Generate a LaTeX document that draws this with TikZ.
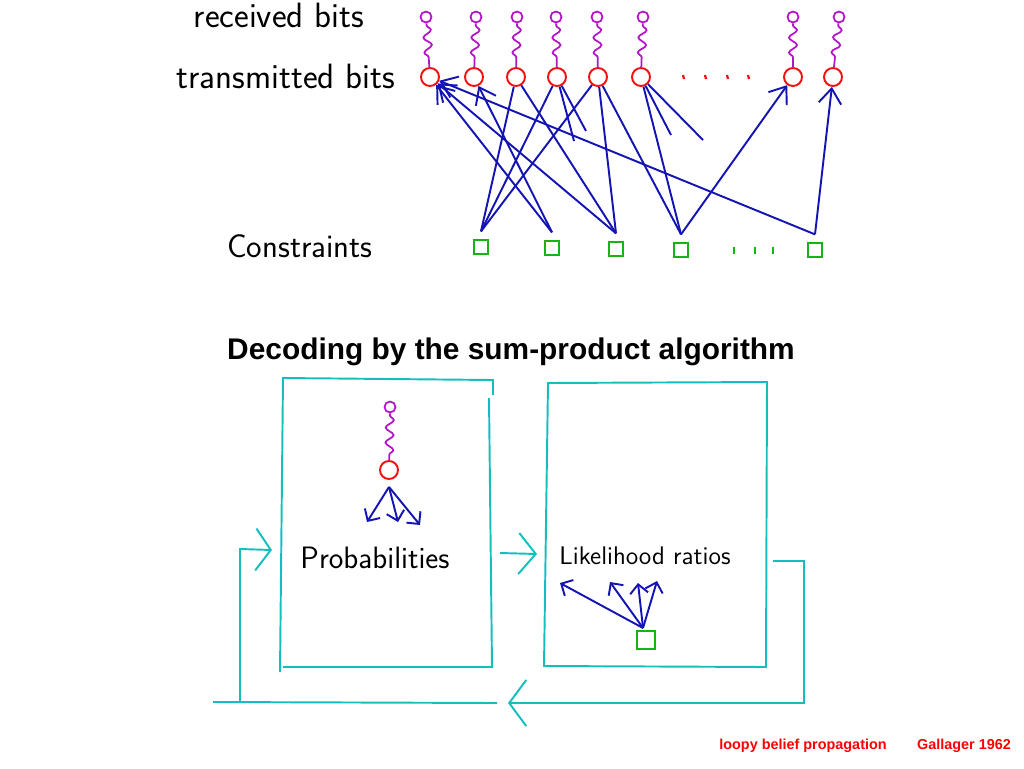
\documentclass[tikz,border=0pt]{standalone}
\usepackage{fontspec}
\newfontfamily\headfont{Liberation Sans}
\usepackage{xcolor}
\definecolor{inkblue}{HTML}{1414B4}
\definecolor{bitred}{HTML}{F21010}
\definecolor{rxmagenta}{HTML}{B414C8}
\definecolor{checkgreen}{HTML}{14B414}
\definecolor{loopcyan}{HTML}{14BEBE}
\definecolor{notered}{HTML}{FF0000}
\usepackage{tikz}
\usetikzlibrary{arrows.meta, decorations.pathmorphing}

\tikzset{
  bit/.style={circle, draw=bitred, line width=1.1pt, minimum size=0.36cm, inner sep=0pt},
  rxbit/.style={circle, draw=rxmagenta, line width=1pt, minimum size=0.22cm, inner sep=0pt},
  check/.style={rectangle, draw=checkgreen, line width=1pt, minimum size=0.29cm, inner sep=0pt},
  msg/.style={draw=inkblue, line width=1.1pt},
  barb/.style={-{Straight Barb[length=0.3cm, width=0.45cm]}},
  smallbarb/.style={-{Straight Barb[length=0.18cm, width=0.36cm]}},
  wiggle/.style={draw=rxmagenta, line width=1pt, decorate,
    decoration={snake, amplitude=0.08cm, segment length=0.3cm, pre length=0.04cm, post length=0.06cm}},
  loopline/.style={draw=loopcyan, line width=1.1pt},
  scrawl/.style={font=\sffamily\fontsize{19}{22}\selectfont, inner sep=0pt},
}

\begin{document}
\begin{tikzpicture}[x=0.02cm, y=-0.02cm]
  \useasboundingbox (0,0) rectangle (1024,768);

  % factor graph
  \node[scrawl, font=\sffamily\fontsize{20}{22}\selectfont] (lblrx) at (279,15) {received bits};
  \node[scrawl, font=\sffamily\fontsize{20}{22}\selectfont] (lbltx) at (286,76) {transmitted bits};
  \node[scrawl, font=\sffamily\fontsize{18.7}{22}\selectfont] (lblcheck) at (300,246) {Constraints};

  \foreach \n/\x/\rx in {1/430/426, 2/474/476, 3/516/517, 4/557/556, 5/598/597, 6/641/643, 7/793/793, 8/833/839} {
    \node[bit] (t\n) at (\x,77) {};
    \node[rxbit] (r\n) at (\rx,17) {};
    \draw[wiggle] (r\n) -- (t\n);
  }
  \foreach \x in {683,705,727,748}
    \draw[bitred, line width=1.3pt] (\x,75) -- (\x+1,79);

  \foreach \n/\x/\y in {1/481/247, 2/552/248, 3/616/249, 4/681/250, 5/815/250} {
    \node[check] (c\n) at (\x,\y) {};
    \coordinate (k\n) at ([yshift=0.15cm]c\n.north);
  }
  \foreach \x in {734,755,773}
    \draw[checkgreen, line width=1.3pt] (\x,247) -- (\x,254);

  \foreach \c/\t in {1/3, 1/4, 1/5, 3/3, 3/5, 4/5, 4/6}
    \draw[msg] (k\c) -- (t\t);
  \foreach \c/\t in {2/1, 2/2, 3/1, 4/7, 5/1, 5/8}
    \draw[msg, barb] (k\c) -- (t\t);

  % half-drawn messages
  \coordinate (s1) at (586,131);
  \coordinate (s2) at (574,141);
  \coordinate (s3) at (671,135);
  \coordinate (s4) at (703,140);
  \draw[msg] (t4) -- (s1);
  \draw[msg] (t4) -- (s2);
  \draw[msg] (t6) -- (s3);
  \draw[msg] (t6) -- (s4);

  % sum-product loop
  \node[font=\headfont\bfseries\fontsize{17}{20}\selectfont] (title) at (511,352) {Decoding by the sum-product algorithm};

  \draw[loopline] (493,395) -- (493,380) -- (283,378) -- (280,672);
  \draw[loopline] (283,667) -- (492,667) -- (489,398);
  \draw[loopline] (548,383) -- (767,382) -- (766,667) -- (544,666) -- cycle;

  \node[rxbit] (r0) at (390,407) {};
  \node[bit] (t0) at (389,470) {};
  \draw[wiggle] (r0) -- (t0);
  \coordinate (fan) at ([yshift=-0.14cm]t0.south);
  \foreach \n/\x/\y in {1/367/522, 2/398/522, 3/420/525} {
    \coordinate (p\n) at (\x,\y);
    \draw[msg, smallbarb] (fan) -- (p\n);
  }
  \node[scrawl, font=\sffamily\fontsize{17.6}{20}\selectfont] (prob) at (375,558) {Probabilities};

  \node[scrawl, font=\sffamily\fontsize{14.5}{16}\selectfont] (ratio) at (645,556) {Likelihood ratios};
  \node[check, minimum size=0.36cm] (c0) at (646,640) {};
  \coordinate (q0) at (643,628);
  \foreach \n/\x/\y in {1/560/583, 2/610/582, 3/638/583, 4/657/581} {
    \coordinate (q\n) at (\x,\y);
    \draw[msg, smallbarb] (q0) -- (q\n);
  }

  \coordinate (outR) at (773,561);
  \coordinate (turnR) at (804,561);
  \coordinate (baseR) at (804,703);
  \coordinate (backL) at (508,703);
  \draw[loopline, -{Straight Barb[length=0.34cm, width=0.92cm]}] (outR) -- (turnR) -- (baseR) -- (backL);
  \coordinate (baseM) at (497,703);
  \coordinate (baseL) at (213,702);
  \draw[loopline] (baseM) -- (baseL);
  \coordinate (upL) at (240,702);
  \coordinate (turnL) at (240,549);
  \coordinate (inL) at (272,550);
  \draw[loopline, -{Straight Barb[length=0.3cm, width=0.84cm]}] (upL) -- (turnL) -- (inL);
  \coordinate (outM) at (500,553);
  \coordinate (inM) at (537,554);
  \draw[loopline, -{Straight Barb[length=0.34cm, width=0.82cm]}] (outM) -- (inM);

  \node[font=\headfont\bfseries\fontsize{8.2}{10}\selectfont, text=notered] (credit1) at (803,746) {loopy belief propagation};
  \node[font=\headfont\bfseries\fontsize{8.2}{10}\selectfont, text=notered] (credit2) at (964,746) {Gallager 1962};
\end{tikzpicture}
\end{document}
